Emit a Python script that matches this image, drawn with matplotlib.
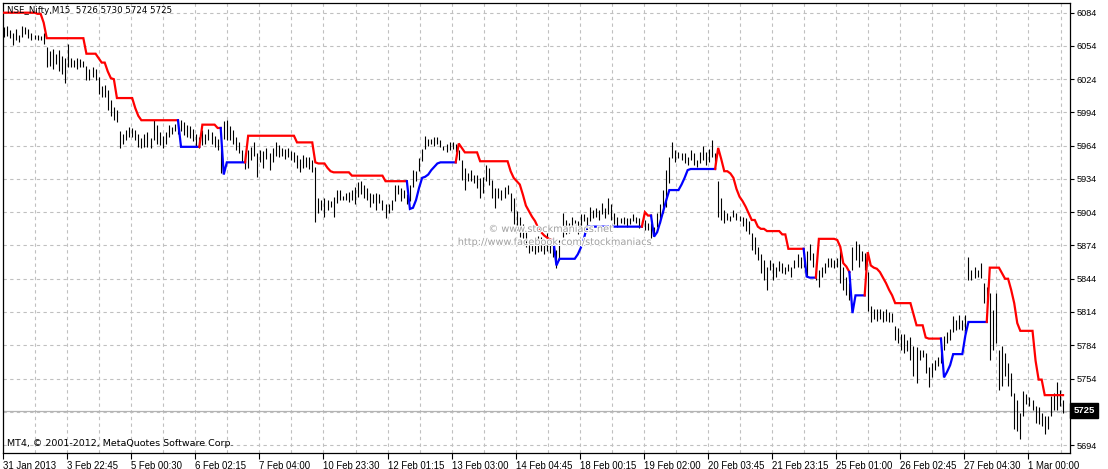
import matplotlib
matplotlib.use("Agg")
import matplotlib.pyplot as plt
import matplotlib.patheffects as pe

# NSE Nifty M15 bars (high / low per bar)
highs = [
    6071, 6072, 6068, 6066, 6069, 6064, 6072, 6071, 6069, 6066,
    6064, 6064, 6063, 6066, 6053, 6049, 6051, 6047, 6050, 6045,
    6043, 6056, 6043, 6041, 6043, 6042, 6040, 6036, 6033, 6035,
    6033, 6026, 6018, 6019, 6014, 6005, 5999, 5996, 5977, 5975,
    5978, 5981, 5980, 5978, 5975, 5971, 5975, 5976, 5971, 5987,
    5983, 5976, 5973, 5976, 5983, 5981, 5984, 5987, 5987, 5985,
    5983, 5982, 5979, 5975, 5972, 5978, 5975, 5979, 5976, 5973,
    5970, 5963, 5986, 5987, 5982, 5978, 5972, 5967, 5960, 5957,
    5960, 5963, 5967, 5957, 5960, 5959, 5962, 5957, 5962, 5967,
    5965, 5962, 5961, 5962, 5959, 5958, 5956, 5952, 5956, 5954,
    5954, 5951, 5945, 5917, 5915, 5917, 5915, 5914, 5918, 5924,
    5924, 5919, 5921, 5922, 5924, 5927, 5931, 5932, 5929, 5926,
    5921, 5920, 5921, 5920, 5915, 5911, 5911, 5915, 5929, 5929,
    5926, 5924, 5920, 5929, 5942, 5941, 5953, 5961, 5973, 5970,
    5970, 5972, 5972, 5969, 5964, 5966, 5967, 5967, 5966, 5960,
    5951, 5944, 5939, 5942, 5938, 5938, 5935, 5936, 5947, 5944,
    5933, 5926, 5926, 5924, 5927, 5929, 5921, 5917, 5905, 5900,
    5893, 5888, 5878, 5878, 5876, 5883, 5882, 5879, 5885, 5881,
    5876, 5870, 5879, 5903, 5897, 5894, 5900, 5897, 5896, 5902,
    5902, 5900, 5909, 5906, 5908, 5906, 5912, 5908, 5917, 5911,
    5903, 5900, 5899, 5900, 5899, 5899, 5902, 5900, 5899, 5897,
    5897, 5894, 5894, 5891, 5903, 5911, 5924, 5942, 5954, 5967,
    5960, 5958, 5957, 5957, 5954, 5960, 5957, 5951, 5958, 5964,
    5958, 5961, 5969, 5957, 5932, 5917, 5906, 5903, 5901, 5906,
    5903, 5901, 5900, 5899, 5896, 5885, 5882, 5873, 5866, 5861,
    5855, 5861, 5858, 5855, 5860, 5858, 5855, 5857, 5855, 5861,
    5866, 5864, 5867, 5869, 5875, 5867, 5858, 5852, 5855, 5858,
    5863, 5863, 5861, 5863, 5870, 5855, 5846, 5840, 5873, 5878,
    5875, 5869, 5867, 5850, 5819, 5817, 5817, 5817, 5815, 5817,
    5814, 5813, 5801, 5800, 5794, 5794, 5789, 5791, 5783, 5782,
    5780, 5780, 5777, 5764, 5768, 5771, 5773, 5783, 5792, 5796,
    5799, 5810, 5807, 5811, 5807, 5811, 5864, 5852, 5855, 5852,
    5858, 5840, 5837, 5831, 5816, 5831, 5780, 5783, 5777, 5768,
    5759, 5741, 5735, 5723, 5743, 5740, 5737, 5735, 5729, 5728,
    5723, 5720, 5720, 5738, 5741, 5751, 5744, 5735,
]
lows = [
    6062, 6063, 6061, 6055, 6059, 6058, 6062, 6065, 6061, 6059,
    6060, 6059, 6059, 6056, 6035, 6036, 6033, 6038, 6031, 6029,
    6021, 6035, 6035, 6035, 6033, 6035, 6035, 6023, 6023, 6026,
    6023, 6011, 6008, 6008, 5996, 5991, 5987, 5985, 5962, 5966,
    5969, 5972, 5972, 5969, 5963, 5962, 5963, 5963, 5962, 5969,
    5966, 5965, 5962, 5966, 5972, 5975, 5977, 5975, 5977, 5974,
    5972, 5971, 5968, 5963, 5962, 5965, 5966, 5969, 5966, 5963,
    5960, 5939, 5970, 5969, 5969, 5966, 5960, 5957, 5949, 5943,
    5944, 5951, 5955, 5936, 5949, 5944, 5952, 5942, 5949, 5955,
    5954, 5955, 5952, 5954, 5951, 5949, 5944, 5940, 5944, 5945,
    5943, 5940, 5895, 5903, 5906, 5900, 5906, 5909, 5900, 5912,
    5915, 5915, 5915, 5913, 5915, 5911, 5918, 5920, 5917, 5915,
    5909, 5912, 5906, 5912, 5906, 5899, 5903, 5906, 5914, 5920,
    5914, 5917, 5911, 5914, 5927, 5932, 5941, 5950, 5961, 5964,
    5966, 5964, 5966, 5963, 5960, 5958, 5960, 5961, 5958, 5951,
    5933, 5924, 5932, 5932, 5930, 5926, 5917, 5921, 5932, 5929,
    5917, 5908, 5917, 5915, 5917, 5920, 5905, 5893, 5888, 5882,
    5881, 5873, 5867, 5869, 5866, 5868, 5869, 5866, 5869, 5867,
    5864, 5854, 5861, 5882, 5884, 5885, 5888, 5887, 5884, 5890,
    5896, 5888, 5896, 5899, 5900, 5897, 5902, 5899, 5902, 5897,
    5893, 5891, 5894, 5893, 5891, 5893, 5896, 5894, 5890, 5891,
    5888, 5888, 5881, 5884, 5891, 5894, 5903, 5909, 5930, 5953,
    5949, 5953, 5951, 5948, 5947, 5951, 5947, 5945, 5948, 5951,
    5947, 5949, 5954, 5944, 5900, 5897, 5894, 5897, 5896, 5900,
    5897, 5896, 5892, 5887, 5884, 5870, 5866, 5861, 5849, 5843,
    5834, 5852, 5843, 5846, 5851, 5849, 5848, 5851, 5846, 5854,
    5855, 5854, 5855, 5846, 5861, 5855, 5843, 5837, 5846, 5849,
    5855, 5855, 5854, 5855, 5840, 5834, 5829, 5825, 5852, 5861,
    5855, 5860, 5852, 5815, 5805, 5808, 5806, 5808, 5805, 5806,
    5805, 5805, 5789, 5786, 5780, 5777, 5779, 5771, 5756, 5750,
    5771, 5773, 5759, 5746, 5755, 5762, 5765, 5768, 5780, 5786,
    5789, 5796, 5798, 5799, 5798, 5797, 5843, 5843, 5845, 5846,
    5845, 5822, 5826, 5771, 5780, 5786, 5744, 5747, 5756, 5747,
    5738, 5708, 5707, 5699, 5720, 5731, 5729, 5726, 5714, 5713,
    5711, 5704, 5708, 5720, 5726, 5726, 5729, 5723,
]

# trailing stop line: level and how many bars it holds
st_level = [6084, 6083, 6075, 6061, 6047, 6043, 6039, 6031, 6025, 6024, 6007, 5998, 5991, 5987,
            5963, 5983, 5980, 5938, 5949, 5973, 5967, 5949, 5948, 5944, 5941, 5940, 5937, 5932,
            5907, 5908, 5915, 5926, 5935, 5936, 5938, 5942, 5945, 5948, 5949,
            5966, 5962, 5958, 5950, 5941, 5935, 5932, 5929, 5920, 5910, 5905, 5900, 5896, 5890,
            5886, 5883, 5881, 5879,
            5856, 5862, 5866, 5872, 5880, 5891,
            5904, 5901,
            5882, 5886, 5895, 5905, 5915, 5924, 5929, 5935, 5942, 5943,
            5962, 5952, 5941, 5939, 5935, 5925, 5918, 5914, 5909, 5903, 5897, 5891, 5889, 5887,
            5884, 5871,
            5846, 5845,
            5880, 5879, 5873, 5858, 5855, 5850,
            5813, 5829,
            5868, 5856, 5854, 5853, 5850, 5845, 5840, 5834, 5829, 5822, 5812, 5802, 5791, 5790,
            5755, 5760, 5766, 5776, 5793, 5805,
            5854, 5849, 5844, 5834, 5822, 5804, 5797, 5770, 5753, 5739]
st_count = [11, 2, 1, 13, 4, 1, 2, 1, 1, 1, 6, 1, 1, 13,
            7, 5, 2, 1, 7, 16, 6, 1, 3, 1, 1, 6, 11, 8,
            1, 1, 1, 1, 1, 1, 1, 1, 1, 1, 6,
            1, 1, 5, 10, 1, 1, 1, 1, 1, 1, 1, 1, 1, 1,
            1, 1, 1, 2,
            1, 6, 1, 1, 1, 19,
            1, 2,
            1, 1, 1, 1, 1, 4, 1, 1, 1, 9,
            1, 1, 2, 1, 1, 1, 1, 1, 1, 1, 2, 1, 2, 5,
            2, 6,
            1, 3,
            6, 1, 1, 1, 1, 1,
            1, 4,
            1, 1, 1, 1, 1, 1, 1, 1, 1, 6, 1, 3, 1, 5,
            1, 1, 1, 4, 1, 7,
            4, 1, 2, 1, 1, 1, 5, 1, 2, 7]
# bar ranges (inclusive) where the line is below price (blue)
blue_runs = [(58, 64), (72, 79), (133, 148), (181, 209), (213, 233),
             (263, 266), (278, 282), (308, 322)]

time_labels = ["31 Jan 2013", "3 Feb 22:45", "5 Feb 00:30", "6 Feb 02:15", "7 Feb 04:00",
               "10 Feb 23:30", "12 Feb 01:15", "13 Feb 03:00", "14 Feb 04:45", "18 Feb 00:15",
               "19 Feb 02:00", "20 Feb 03:45", "21 Feb 23:15", "25 Feb 01:00", "26 Feb 02:45",
               "27 Feb 04:30", "1 Mar 00:00"]
price_ticks = [6084, 6054, 6024, 5994, 5964, 5934, 5904, 5874, 5844, 5814, 5784, 5754, 5724, 5694]
last_price = 5725

st = []
for lv, n in zip(st_level, st_count):
    st += [lv] * n
n_bars = len(highs)
assert len(lows) == n_bars and len(st) == n_bars

up = [False] * n_bars
for a, b in blue_runs:
    for i in range(a, b + 1):
        up[i] = True

plt.rcParams['font.family'] = ['DejaVu Sans']
fig = plt.figure(figsize=(11.08, 4.69), dpi=100)
W, H = 1108, 469
ax = fig.add_axes([3 / W, (H - 453) / H, 1067 / W, 450 / H])

px = 3.052  # pixels per bar
ax.set_xlim(-1 / px, 1066 / px)
ax.set_ylim(5686.8, 6092.75)

# grid
for k in range(1, 34):
    ax.axvline(10.5 * k - 0.33, color="#c0c0c0", lw=0.8, ls=(0, (3, 3)), zorder=0)
for p in price_ticks:
    ax.axhline(p, color="#c0c0c0", lw=0.8, ls=(0, (3, 3)), zorder=0)

# current price line
ax.axhline(last_price, color="#b4b4b4", lw=0.9, zorder=1)

# bars
ax.vlines(range(n_bars), lows, highs, color="black", lw=0.8, zorder=2)

# trailing stop, split into same-colour runs
start = 0
for i in range(1, n_bars + 1):
    if i == n_bars or up[i] != up[start]:
        a = max(start - 1, 0)
        ax.plot(range(a, i), st[a:i], color="#0000ff" if up[start] else "#ff0000",
                lw=1.6, solid_joinstyle="miter", zorder=3)
        start = i

# axes styling
for s in ax.spines.values():
    s.set_color("black")
    s.set_linewidth(0.9)
ax.yaxis.tick_right()
ax.set_yticks(price_ticks)
ax.set_yticklabels([str(p) if p != 5724 else "" for p in price_ticks],
                   family="Liberation Sans", fontsize=6.6)
ax.set_xticks([21 * k - 0.33 for k in range(len(time_labels))])
ax.set_xticklabels(time_labels, family="Liberation Sans", fontsize=6.9)
for lab in ax.get_xticklabels():
    lab.set_horizontalalignment("left")
ax.tick_params(axis="y", length=3, width=0.8, pad=1.5, colors="black")
ax.tick_params(axis="x", length=4, width=0.8, pad=1.5, colors="black")

ax.text(1.003, last_price, str(last_price), transform=ax.get_yaxis_transform(),
        ha="left", va="center", color="white", fontsize=6.8, fontweight="bold",
        family="Liberation Sans",
        bbox=dict(facecolor="black", edgecolor="black", pad=2.2), zorder=5, clip_on=False)

ax.text(0.0037, 0.984, "NSE_Nifty,M15  5726 5730 5724 5725", transform=ax.transAxes,
        ha="left", va="center", fontsize=6.2, color="black", zorder=6)
ax.text(0.0037, 0.022, "MT4, \u00a9 2001-2012, MetaQuotes Software Corp.", transform=ax.transAxes,
        ha="left", va="center", fontsize=6.8, color="black", zorder=6)

wm = [pe.withStroke(linewidth=1.5, foreground="white")]
ax.text(0.5136, 0.498, "\u00a9 www.stockmaniacs.net", transform=ax.transAxes,
        ha="center", va="center", fontsize=7, color="#a0a0a0", path_effects=wm, zorder=4)
ax.text(0.5173, 0.469, "http://www.facebook.com/stockmaniacs", transform=ax.transAxes,
        ha="center", va="center", fontsize=7, color="#a0a0a0", path_effects=wm, zorder=4)

fig.savefig("out.png", dpi=100, facecolor="white")
